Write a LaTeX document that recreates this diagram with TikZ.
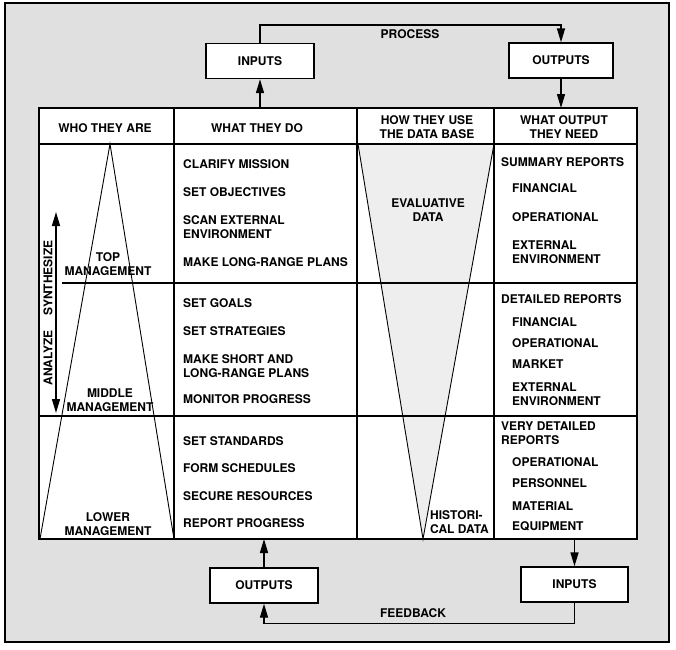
\documentclass[tikz,border=0pt]{standalone}
\usepackage{fontspec}
\setmainfont{TeX Gyre Heros}
\usetikzlibrary{arrows.meta}
\definecolor{bggray}{RGB}{224,224,224}
\definecolor{vgray}{RGB}{238,238,238}
\begin{document}
\begin{tikzpicture}[x=1pt,y=-1pt,
  every node/.style={font=\fontsize{12}{13.5}\selectfont\bfseries, inner sep=0pt},
  lt/.style={align=left, anchor=north west},
  ct/.style={align=center, anchor=north},
  pbox/.style={draw, line width=1.4pt, fill=white, minimum height=35pt},
  tline/.style={line width=1.4pt},
  thin/.style={line width=0.9pt},
  conn/.style={line width=1.4pt, -{Triangle[length=14pt,width=8pt]}},
  dconn/.style={line width=1.4pt, {Triangle[length=14pt,width=8pt]}-{Triangle[length=14pt,width=8pt]}}]
\useasboundingbox (0,0) rectangle (676,649);
% frame
\draw[line width=1.8pt, fill=bggray] (5,3) rectangle (669,642);
% table coordinates
\coordinate (tl) at (39,108);
\coordinate (br) at (637,539);
\coordinate (hl) at (39,144);
\coordinate (r1s) at (62,283);
\coordinate (r1e) at (637,283);
\coordinate (r2s) at (39,416);
\coordinate (r2e) at (637,416);
\coordinate (c1t) at (174,108);
\coordinate (c1b) at (174,539);
\coordinate (c2t) at (357,108);
\coordinate (c2b) at (357,539);
\coordinate (c3t) at (494,108);
\coordinate (c3b) at (494,539);
% triangle coordinates
\coordinate (apex) at (110,144);
\coordinate (tbl) at (40,539);
\coordinate (tbr) at (174,539);
\coordinate (vl) at (358,144);
\coordinate (vr) at (494,144);
\coordinate (vb) at (423,539);
% table
\fill[white] (tl) rectangle (br);
\fill[vgray] (vl) -- (vb) -- (vr) -- cycle;
\draw[thin] (tbl) -- (apex) -- (tbr);
\draw[thin] (vl) -- (vb) -- (vr);
\draw[tline] (tl) rectangle (br);
\draw[tline] (hl) -- (hl -| br);
\draw[tline] (r1s) -- (r1e);
\draw[tline] (r2s) -- (r2e);
\draw[tline] (c1t) -- (c1b);
\draw[tline] (c2t) -- (c2b);
\draw[tline] (c3t) -- (c3b);
% headers
\node[ct] (h1) at (105,123.7) {WHO THEY ARE};
\node[ct] (h2) at (257,123.7) {WHAT THEY DO};
\node[ct] (h3) at (427,115.7) {HOW THEY USE\\THE DATA BASE};
\node[ct] (h4) at (564,115.7) {WHAT OUTPUT\\THEY NEED};
% column 1
\node[ct] (top) at (108,252.7) {TOP\\MANAGEMENT};
\node[ct] (mid) at (110,388.7) {MIDDLE\\MANAGEMENT};
\node[ct] (low) at (108,512.7) {LOWER\\MANAGEMENT};
\node[rotate=90] (anl) at (48,313) {ANALYZE\hspace{15pt}SYNTHESIZE};
\coordinate (aup) at (56,212);
\coordinate (adn) at (56,413);
\draw[dconn] (adn) -- (aup);
% column 2
\node[lt] (d1) at (183,159.7) {CLARIFY MISSION};
\node[lt] (d2) at (183,187.7) {SET OBJECTIVES};
\node[lt] (d3) at (183,215.7) {SCAN EXTERNAL\\ENVIRONMENT};
\node[lt] (d4) at (183,257.7) {MAKE LONG-RANGE PLANS};
\node[lt] (d5) at (183,298.7) {SET GOALS};
\node[lt] (d6) at (183,326.7) {SET STRATEGIES};
\node[lt] (d7) at (183,354.7) {MAKE SHORT AND\\LONG-RANGE PLANS};
\node[lt] (d8) at (183,394.7) {MONITOR PROGRESS};
\node[lt] (d9) at (183,436.7) {SET STANDARDS};
\node[lt] (d10) at (183,463.7) {FORM SCHEDULES};
\node[lt] (d11) at (183,491.7) {SECURE RESOURCES};
\node[lt] (d12) at (183,518.7) {REPORT PROGRESS};
% column 3
\node[ct] (ev) at (428,198.7) {EVALUATIVE\\DATA};
\node[lt] (hi) at (430,510.7) {HISTORI-\\CAL DATA};
% column 4
\node[lt] (o1) at (501,157.7) {SUMMARY REPORTS};
\node[lt] (o2) at (512,183.7) {FINANCIAL};
\node[lt] (o3) at (512,212.7) {OPERATIONAL};
\node[lt] (o4) at (512,240.7) {EXTERNAL\\ENVIRONMENT};
\node[lt] (o5) at (501,294.7) {DETAILED REPORTS};
\node[lt] (o6) at (512,317.7) {FINANCIAL};
\node[lt] (o7) at (512,338.7) {OPERATIONAL};
\node[lt] (o8) at (512,359.7) {MARKET};
\node[lt] (o9) at (512,382.7) {EXTERNAL\\ENVIRONMENT};
\node[lt] (o10) at (501,421.7) {VERY DETAILED\\REPORTS};
\node[lt] (o11) at (512,457.7) {OPERATIONAL};
\node[lt] (o12) at (512,478.7) {PERSONNEL};
\node[lt] (o13) at (512,501.7) {MATERIAL};
\node[lt] (o14) at (512,521.7) {EQUIPMENT};
% boxes
\node[pbox, minimum width=108pt] (inT) at (260,61) {INPUTS};
\node[pbox, minimum width=104pt] (outT) at (561,60.5) {OUTPUTS};
\node[pbox, minimum width=108pt] (outB) at (264,585.5) {OUTPUTS};
\node[pbox, minimum width=107pt] (inB) at (574.5,584.5) {INPUTS};
% connectors
\draw[conn] (inT.north) -- ++(0,-18) -| (outT.north);
\draw[conn] (inT.south |- tl) -- (inT.south);
\draw[conn] (outT.south) -- (outT.south |- tl);
\draw[conn] (outB.north) -- (outB.north |- br);
\draw[conn] (inB.north |- br) -- (inB.north);
\draw[conn] (inB.south) -- ++(0,21) -| (outB.south);
\node[ct] (proc) at (410,29.7) {PROCESS};
\node[ct] (fb) at (413,608.7) {FEEDBACK};
\end{tikzpicture}
\end{document}
